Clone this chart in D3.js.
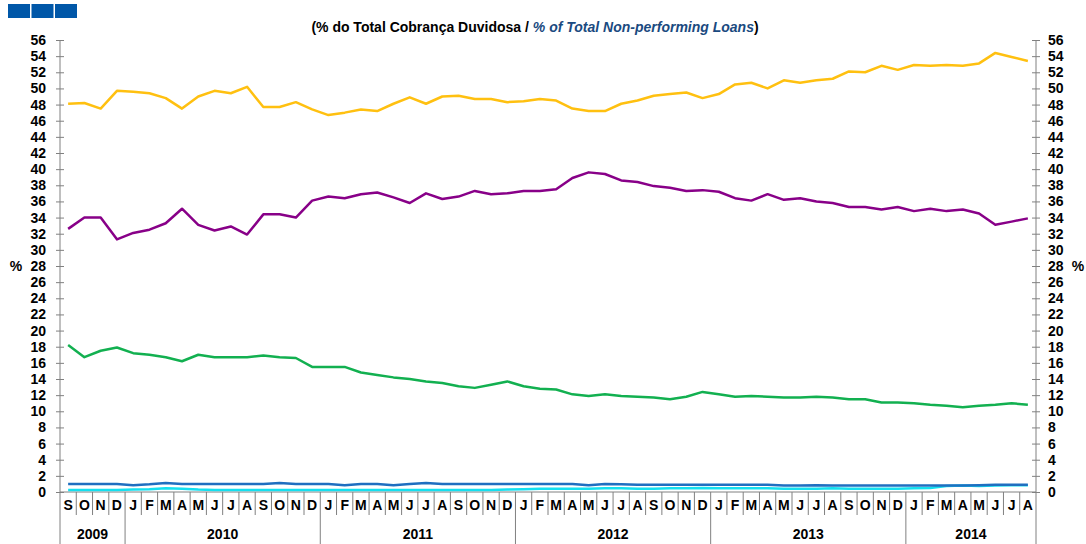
<!DOCTYPE html>
<html>
<head>
<meta charset="utf-8">
<script src="https://cdn.jsdelivr.net/npm/d3@7"></script>
<style>
  body { margin: 0; background: #fff; }
  svg { display: block; font-family: "Liberation Sans", Arial, sans-serif; }
</style>
</head>
<body>
<svg id="chart" width="1086" height="544"></svg>
<script>
// months Sep 2009 .. Aug 2014
var monthLabels = ["S","O","N","D",
  "J","F","M","A","M","J","J","A","S","O","N","D",
  "J","F","M","A","M","J","J","A","S","O","N","D",
  "J","F","M","A","M","J","J","A","S","O","N","D",
  "J","F","M","A","M","J","J","A","S","O","N","D",
  "J","F","M","A","M","J","J","A"];
var years = ["2009","2010","2011","2012","2013","2014"];
var yearMonths = [4, 12, 12, 12, 12, 8];
var yTicks = [0,2,4,6,8,10,12,14,16,18,20,22,24,26,28,30,32,34,36,38,40,42,44,46,48,50,52,54,56];

var seriesYellow = [48.1,48.2,47.5,49.7,49.6,49.4,48.8,47.5,49.0,49.7,
  49.4,50.2,47.7,47.7,48.3,47.4,46.7,47.0,47.4,47.2,
  48.1,48.9,48.1,49.0,49.1,48.7,48.7,48.3,48.4,48.7,
  48.5,47.5,47.2,47.2,48.1,48.5,49.1,49.3,49.5,48.8,
  49.3,50.5,50.7,50.0,51.0,50.7,51.0,51.2,52.1,52.0,
  52.8,52.3,52.9,52.8,52.9,52.8,53.1,54.4,53.9,53.4];
var seriesPurple = [32.6,34.0,34.0,31.3,32.1,32.5,33.3,35.1,33.1,32.4,
  32.9,31.9,34.4,34.4,34.0,36.1,36.6,36.4,36.9,37.1,
  36.5,35.8,37.0,36.3,36.6,37.3,36.9,37.0,37.3,37.3,
  37.5,38.9,39.6,39.4,38.6,38.4,37.9,37.7,37.3,37.4,
  37.2,36.4,36.1,36.9,36.2,36.4,36.0,35.8,35.3,35.3,
  35.0,35.3,34.8,35.1,34.8,35.0,34.5,33.1,33.5,33.9];
var seriesGreen = [18.2,16.7,17.5,17.9,17.2,17.0,16.7,16.2,17.0,16.7,
  16.7,16.7,16.9,16.7,16.6,15.5,15.5,15.5,14.8,14.5,
  14.2,14.0,13.7,13.5,13.1,12.9,13.3,13.7,13.1,12.8,
  12.7,12.1,11.9,12.1,11.9,11.8,11.7,11.5,11.8,12.4,
  12.1,11.8,11.9,11.8,11.7,11.7,11.8,11.7,11.5,11.5,
  11.1,11.1,11.0,10.8,10.7,10.5,10.7,10.8,11.0,10.8];
var seriesBlue = [1.0,1.0,1.0,1.0,0.85,0.95,1.1,1.0,1.0,1.0,
  1.0,1.0,1.0,1.1,1.0,1.0,1.0,0.85,1.0,1.0,
  0.85,1.0,1.1,1.0,1.0,1.0,1.0,1.0,1.0,1.0,
  1.0,1.0,0.85,1.0,0.95,0.9,0.9,0.9,0.9,0.9,
  0.9,0.9,0.9,0.9,0.8,0.8,0.85,0.8,0.8,0.8,
  0.8,0.8,0.8,0.8,0.8,0.8,0.85,0.9,0.9,0.9];
var seriesCyan = [0.25,0.25,0.25,0.25,0.3,0.35,0.45,0.4,0.3,0.25,
  0.25,0.25,0.25,0.25,0.25,0.25,0.25,0.25,0.25,0.25,
  0.25,0.25,0.25,0.25,0.25,0.25,0.25,0.3,0.35,0.4,
  0.4,0.4,0.4,0.45,0.45,0.4,0.4,0.45,0.45,0.5,
  0.45,0.45,0.45,0.45,0.4,0.4,0.4,0.45,0.4,0.4,
  0.4,0.4,0.45,0.5,0.75,0.8,0.75,0.8,0.85,0.85];

var seriesList = [
  {values: seriesCyan, color: "#14E0F0"},
  {values: seriesBlue, color: "#1F6FC0"},
  {values: seriesGreen, color: "#12B050"},
  {values: seriesPurple, color: "#880088"},
  {values: seriesYellow, color: "#FFC010"}
];

function draw() {
  var svg = d3.select("#chart"),
      plotLeft = 60, plotRight = 1036, plotTop = 40, plotBottom = 492,
      axisColor = "#808080";

  var idx = d3.range(monthLabels.length);
  var x = d3.scaleBand().domain(idx).range([plotLeft, plotRight]).padding(0);
  var y = d3.scaleLinear().domain([0, 56]).range([plotBottom, plotTop]);

  // logo boxes
  svg.selectAll("rect.logo").data([0,1,2]).enter().append("rect")
    .attr("x", function(d){ return 8 + d * 23.5; })
    .attr("y", 4).attr("width", 22).attr("height", 14)
    .attr("fill", "#0057A8");

  // title
  var title = svg.append("text").attr("x", 535).attr("y", 32)
    .attr("text-anchor", "middle").attr("font-size", 14).attr("font-weight", "bold");
  title.append("tspan").attr("fill", "#000").text("(% do Total Cobrança Duvidosa  / ");
  title.append("tspan").attr("fill", "#1A4A80").attr("font-style", "italic").text("% of Total Non-performing Loans");
  title.append("tspan").attr("fill", "#000").text(")");

  // y axes
  function styleAxis(g) {
    g.select(".domain").remove();
    g.selectAll(".tick line").attr("stroke", axisColor).attr("x1", -4).attr("x2", 4);
    g.selectAll(".tick text").attr("font-size", 14).attr("font-weight", "bold")
      .attr("fill", "#000").attr("font-family", "Liberation Sans, Arial, sans-serif");
  }
  var yl = svg.append("g").attr("transform", "translate(" + plotLeft + ",0)")
    .call(d3.axisLeft(y).tickValues(yTicks).tickSize(4).tickPadding(10).tickFormat(d3.format("d")));
  styleAxis(yl);
  var yr = svg.append("g").attr("transform", "translate(" + plotRight + ",0)")
    .call(d3.axisRight(y).tickValues(yTicks).tickSize(4).tickPadding(8).tickFormat(d3.format("d")));
  styleAxis(yr);

  svg.append("line").attr("x1", plotLeft).attr("x2", plotLeft).attr("y1", plotTop).attr("y2", 544)
    .attr("stroke", axisColor);
  svg.append("line").attr("x1", plotRight).attr("x2", plotRight).attr("y1", plotTop).attr("y2", 544)
    .attr("stroke", axisColor);

  svg.append("text").attr("x", 16).attr("y", y(28) + 5).attr("text-anchor", "middle")
    .attr("font-size", 14).attr("font-weight", "bold").text("%");
  svg.append("text").attr("x", 1078).attr("y", y(28) + 5).attr("text-anchor", "middle")
    .attr("font-size", 14).attr("font-weight", "bold").text("%");

  // x axis: baseline, month separators, year separators
  svg.append("line").attr("x1", plotLeft).attr("x2", plotRight).attr("y1", plotBottom).attr("y2", plotBottom)
    .attr("stroke", axisColor);

  var yearStarts = [];
  var acc = 0;
  yearMonths.forEach(function(n){ yearStarts.push(acc); acc += n; });

  svg.selectAll("line.msep").data(idx.slice(1)).enter().append("line")
    .attr("x1", function(d){ return x(d); }).attr("x2", function(d){ return x(d); })
    .attr("y1", plotBottom)
    .attr("y2", function(d){ return yearStarts.indexOf(d) >= 0 ? 544 : 515; })
    .attr("stroke", axisColor);

  svg.selectAll("text.month").data(idx).enter().append("text")
    .attr("x", function(d){ return x(d) + x.bandwidth() / 2; })
    .attr("y", 510).attr("text-anchor", "middle")
    .attr("font-size", 14).attr("font-weight", "bold").text(function(d){ return monthLabels[d]; });

  svg.selectAll("text.year").data(years).enter().append("text")
    .attr("x", function(d, i){
      var a = x(yearStarts[i]), b = x(yearStarts[i] + yearMonths[i] - 1) + x.bandwidth();
      return (a + b) / 2;
    })
    .attr("y", 539).attr("text-anchor", "middle")
    .attr("font-size", 14).attr("font-weight", "bold").text(function(d){ return d; });

  // lines
  var line = d3.line()
    .x(function(d, i){ return x(i) + x.bandwidth() / 2; })
    .y(function(d){ return y(d); });

  svg.selectAll("path.series").data(seriesList).enter().append("path")
    .attr("d", function(s){ return line(s.values); })
    .attr("fill", "none")
    .attr("stroke", function(s){ return s.color; })
    .attr("stroke-width", 2.5)
    .attr("stroke-linejoin", "round");
}

draw();
</script>
</body>
</html>
